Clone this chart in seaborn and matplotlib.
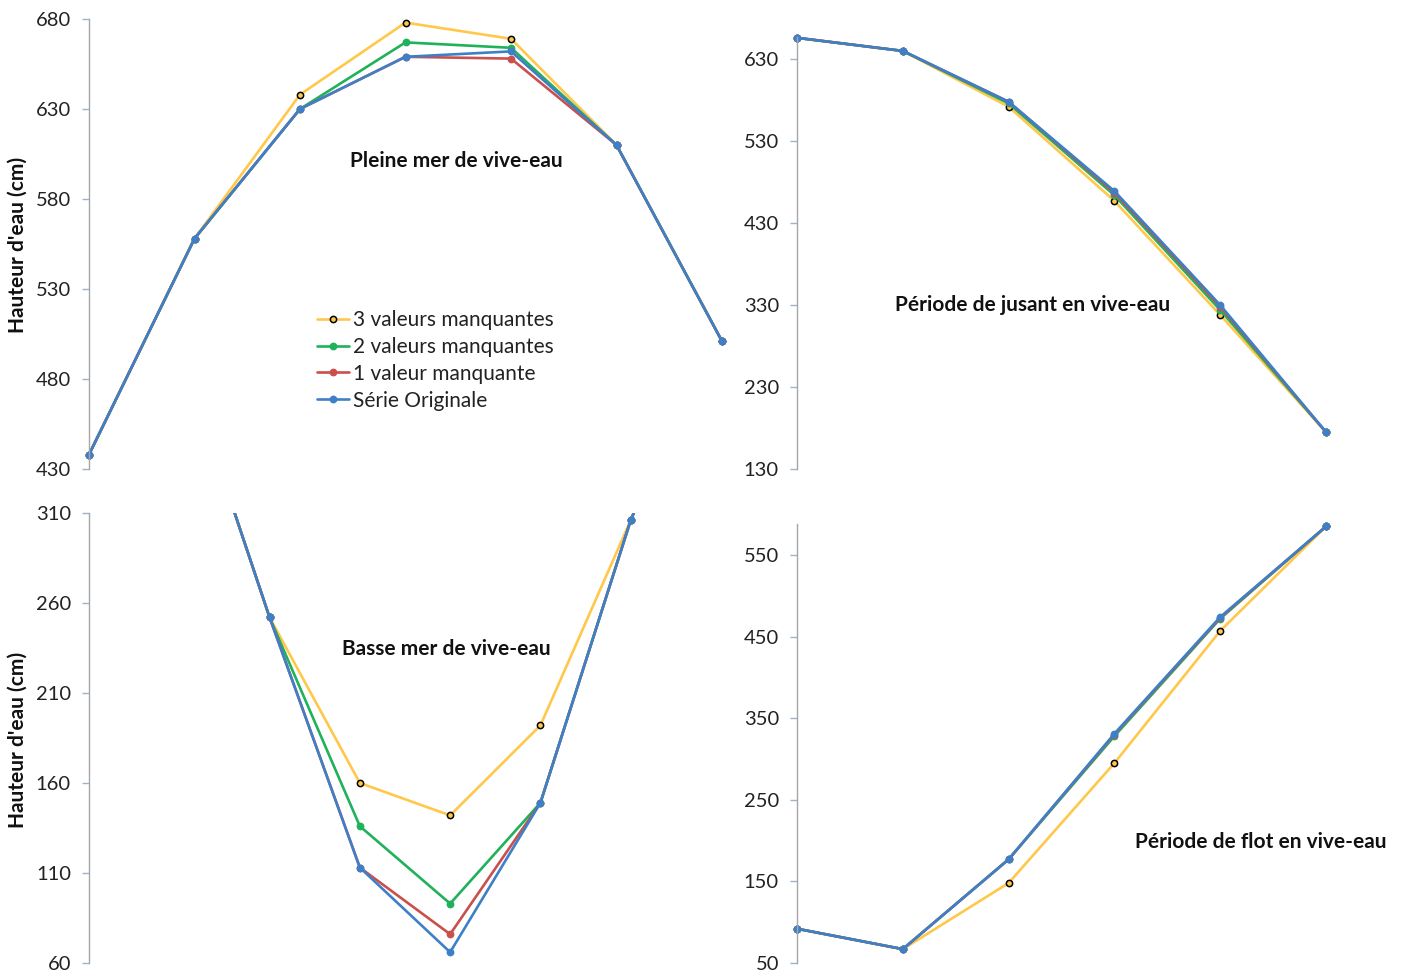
import pandas as pd
import matplotlib
matplotlib.use("Agg")
import matplotlib.pyplot as plt
import seaborn as sns

# series names and colours (same in every panel)
series = ["3 valeurs manquantes", "2 valeurs manquantes", "1 valeur manquante", "Série Originale"]
colors = ["#FFC84A", "#1FB25A", "#C9504D", "#3E80C8"]

# Panel 1: Pleine mer de vive-eau
p1_x = [0, 1, 2, 3, 4, 5, 6]
p1_m3 = [438, 558, 638, 678, 669, 610, 501]
p1_m2 = [438, 558, 630, 667, 664, 610, 501]
p1_m1 = [438, 558, 630, 659, 658, 610, 501]
p1_orig = [438, 558, 630, 659, 662, 610, 501]

# Panel 2: Période de jusant en vive-eau
p2_x = [0, 1, 2, 3, 4, 5]
p2_m3 = [656, 640, 572, 457, 318, 175]
p2_m2 = [656, 640, 576, 464, 324, 175]
p2_m1 = [656, 640, 578, 467, 328, 175]
p2_orig = [656, 640, 578, 469, 330, 175]

# Panel 3: Basse mer de vive-eau (first/last points lie above the axis)
p3_x = [0, 1, 2, 3, 4, 5, 6, 7]
p3_m3 = [555, 402, 252, 160, 142, 192, 306, 425]
p3_m2 = [555, 402, 252, 136, 93, 149, 306, 425]
p3_m1 = [555, 402, 252, 113, 76, 149, 306, 425]
p3_orig = [555, 402, 252, 113, 66, 149, 306, 425]

# Panel 4: Période de flot en vive-eau
p4_x = [0, 1, 2, 3, 4, 5]
p4_m3 = [92, 67, 148, 295, 457, 585]
p4_m2 = [92, 67, 177, 328, 472, 585]
p4_m1 = [92, 67, 177, 330, 473, 585]
p4_orig = [92, 67, 177, 331, 474, 585]

sns.set_style("white")
plt.rcParams["font.family"] = ["Lato", "DejaVu Sans"]

W, H = 1404, 976
fig = plt.figure(figsize=(W / 100, H / 100), dpi=100)


def axes_px(left, top, right, bottom):
    return fig.add_axes([left / W, 1 - bottom / H, (right - left) / W, (bottom - top) / H])


panels = [
    dict(box=(89, 19, 722, 469), x=p1_x, ys=[p1_m3, p1_m2, p1_m1, p1_orig],
         xlim=(0, 6), ylim=(430, 680), ticks=range(430, 681, 50), clip=False,
         title="Pleine mer de vive-eau", tpos=(456, 161)),
    dict(box=(797, 37, 1326, 469), x=p2_x, ys=[p2_m3, p2_m2, p2_m1, p2_orig],
         xlim=(0, 5), ylim=(130, 657), ticks=range(130, 631, 100), clip=False,
         title="Période de jusant en vive-eau", tpos=(1033, 305)),
    dict(box=(89, 513, 721, 963), x=p3_x, ys=[p3_m3, p3_m2, p3_m1, p3_orig],
         xlim=(0, 7), ylim=(60, 310), ticks=range(60, 311, 50), clip=True,
         title="Basse mer de vive-eau", tpos=(446, 649)),
    dict(box=(797, 524, 1326, 963), x=p4_x, ys=[p4_m3, p4_m2, p4_m1, p4_orig],
         xlim=(0, 5), ylim=(50, 588), ticks=range(50, 551, 100), clip=False,
         title="Période de flot en vive-eau", tpos=(1261, 842)),
]

axes = []
for p in panels:
    ax = axes_px(*p["box"])
    for name, col, y in zip(series, colors, p["ys"]):
        edge = "black" if col == colors[0] else col
        sns.lineplot(x=p["x"], y=y, ax=ax, color=col, linewidth=1.9,
                     marker="o", markersize=4.5, markerfacecolor=col,
                     markeredgecolor=edge, markeredgewidth=1.1,
                     label=name, legend=False, clip_on=p["clip"])
    ax.set_xlim(*p["xlim"])
    ax.set_ylim(*p["ylim"])
    ax.set_yticks(list(p["ticks"]))
    ax.set_xticks([])
    ax.set_xlabel("")
    ax.set_ylabel("")
    for s in ["top", "right", "bottom"]:
        ax.spines[s].set_visible(False)
    ax.spines["left"].set_color("#A6A6A6")
    ax.spines["left"].set_linewidth(1.0)
    ax.tick_params(axis="y", left=True, length=5, width=1, color="#9DB3CC",
                   labelsize=14.5, labelcolor="#222222", pad=8)
    ax.patch.set_alpha(0)
    fig.text(p["tpos"][0] / W, 1 - p["tpos"][1] / H, p["title"],
             ha="center", va="center", fontsize=15, fontweight="bold", color="#111111")
    axes.append(ax)

handles, labels = axes[0].get_legend_handles_labels()
leg = fig.legend(handles, labels, loc="upper left",
                 bbox_to_anchor=(317 / W, 1 - 310 / H), bbox_transform=fig.transFigure,
                 frameon=False, fontsize=15, handlelength=1.55, handletextpad=0.2,
                 labelspacing=0.33, borderpad=0, borderaxespad=0)
for t in leg.get_texts():
    t.set_color("#222222")

for yc in (245, 740):
    fig.text(18 / W, 1 - yc / H, "Hauteur d'eau (cm)", rotation=90,
             ha="center", va="center", fontsize=15, fontweight="bold", color="#111111")

fig.savefig("out.png", dpi=100)
